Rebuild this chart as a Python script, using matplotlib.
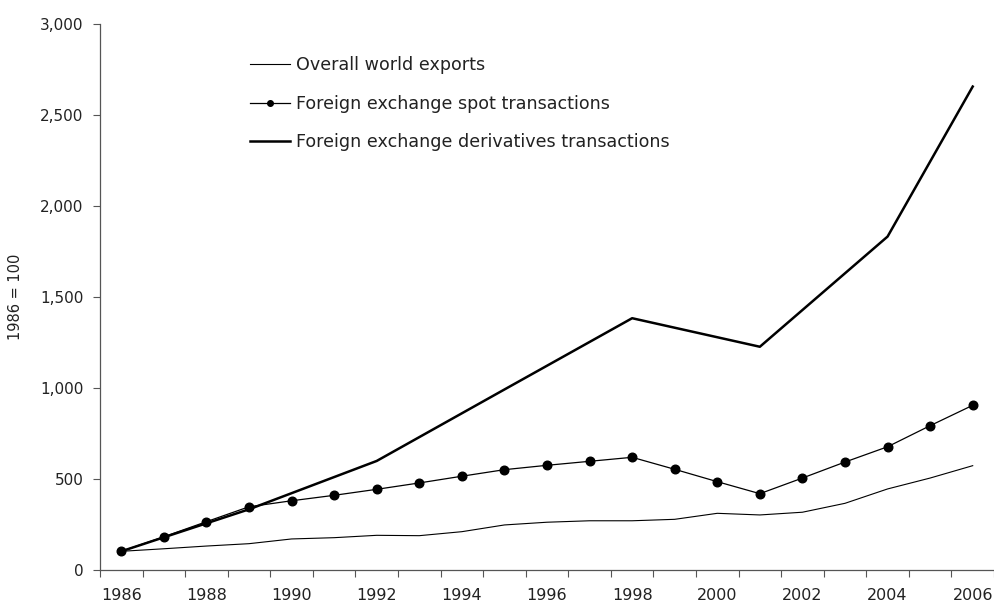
import matplotlib
matplotlib.use("Agg")
import matplotlib.pyplot as plt
from matplotlib.ticker import FuncFormatter, FixedLocator

years = list(range(1986, 2007))
world_exports = [100, 114, 129, 142, 168, 175, 188, 186, 208, 245, 260,
                 268, 268, 276, 309, 300, 315, 364, 443, 503, 571]
fx_spot = [100, 180, 263, 345, 378, 408, 441, 476, 513, 549, 573,
           595, 617, 551, 483, 417, 503, 591, 675, 791, 903]
deriv_years = [1986, 1989, 1992, 1995, 1998, 2001, 2004, 2006]
fx_derivatives = [100, 331, 597, 990, 1382, 1225, 1831, 2656]
label_years = list(range(1986, 2007, 2))

plt.rcParams['font.family'] = ['DejaVu Sans']
text_color = '#222222'

fig = plt.figure(figsize=(9.95, 6.07), dpi=100)
ax = fig.add_axes([100/995, 1 - 569.5/607, 894/995, 545.5/607])

ax.plot(years, world_exports, color='black', lw=0.8, label='Overall world exports')
ax.plot(years, fx_spot, color='black', lw=0.9, marker='o', markersize=6.2,
        label='Foreign exchange spot transactions')
ax.plot(deriv_years, fx_derivatives, color='black', lw=1.8,
        label='Foreign exchange derivatives transactions')

ax.set_xlim(1985.5, 2006.5)
ax.set_ylim(0, 3000)
ax.set_yticks(range(0, 3001, 500))
ax.yaxis.set_major_formatter(FuncFormatter(lambda v, p: f'{int(v):,}'))

ax.set_xticks(label_years)
ax.set_xticklabels([str(y) for y in label_years])
ax.xaxis.set_minor_locator(FixedLocator([y - 0.5 for y in range(1986, 2008)]))
ax.tick_params(axis='x', which='major', length=0, pad=13, labelsize=11.5, colors=text_color)
ax.tick_params(axis='x', which='minor', length=5, width=0.8, color='#555555', direction='out')
ax.tick_params(axis='y', length=5, width=0.8, color='#555555', pad=7, labelsize=11,
               labelcolor=text_color)

for s in ['top', 'right']:
    ax.spines[s].set_visible(False)
for s in ['left', 'bottom']:
    ax.spines[s].set_color('#555555')
    ax.spines[s].set_linewidth(0.9)

ax.set_ylabel('1986 = 100', fontsize=10.5, color=text_color, labelpad=12)

leg = ax.legend(loc='upper left', bbox_to_anchor=(0.168, 0.941), frameon=False,
                fontsize=12.6, handlelength=2.3, handletextpad=0.33,
                labelspacing=1.17, borderpad=0, borderaxespad=0, markerscale=0.65)
for t in leg.get_texts():
    t.set_color(text_color)

fig.savefig('out.png', dpi=100)
